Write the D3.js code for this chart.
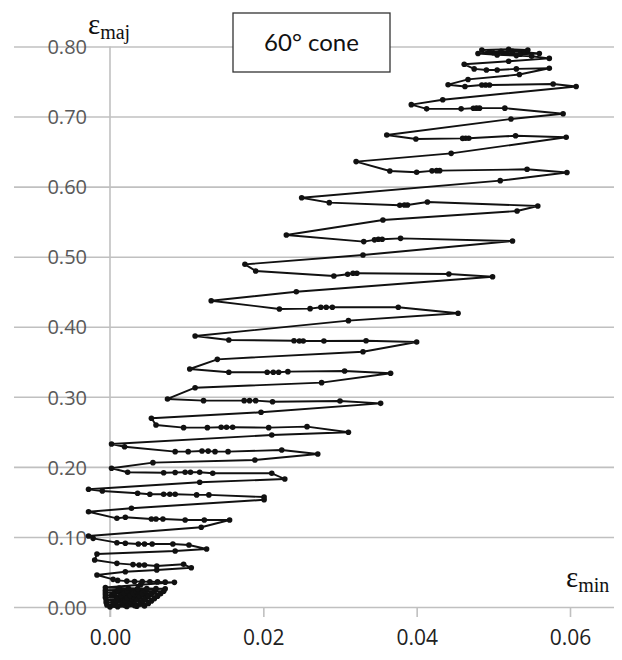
<!DOCTYPE html>
<html><head><meta charset="utf-8">
<script src="https://cdn.jsdelivr.net/npm/d3@7/dist/d3.min.js"></script>
<style>body{margin:0;background:#fff}svg{display:block}</style>
</head><body><svg id="c" width="622" height="660"></svg>
<script>
// strain path (time order, bottom to top)
const epsMin = [
0.0000,0.0010,0.0022,0.0035,0.0045,0.0032,0.0020,0.0008,-0.0004,
0.0024,0.0050,0.0040,0.0028,0.0016,0.0004,-0.0005,
0.0026,0.0054,0.0043,0.0032,0.0020,0.0008,-0.0005,
0.0028,0.0058,0.0046,0.0034,0.0022,0.0010,-0.0006,
0.0030,0.0062,0.0050,0.0038,0.0026,0.0014,0.0002,-0.0006,
0.0032,0.0066,0.0054,0.0042,0.0030,0.0018,0.0006,-0.0006,
0.0035,0.0070,0.0058,0.0046,0.0034,0.0022,0.0010,-0.0006,
0.0036,0.0072,0.0060,0.0048,0.0036,0.0024,0.0012,-0.0006,
0.0040,
0.0084,0.0072,0.0062,0.0052,0.0042,0.0032,0.0022,0.0010,0.0004,-0.0017,
0.0020,0.0061,0.0106,0.0096,0.0061,0.0045,0.0038,0.0030,0.0009,-0.0020,-0.0017,
0.0085,0.0126,0.0103,0.0082,0.0055,0.0045,0.0037,0.0020,0.0009,-0.0022,-0.0028,
0.0119,0.0156,0.0123,0.0098,0.0069,0.0060,0.0054,0.0020,0.0009,-0.0028,
0.0028,0.0201,0.0201,0.0129,0.0113,0.0085,0.0078,0.0070,0.0052,0.0036,-0.0010,-0.0028,
0.0117,0.0228,0.0211,0.0134,0.0117,0.0105,0.0098,0.0085,0.0070,0.0023,0.0002,
0.0056,0.0189,0.0271,0.0224,0.0154,0.0137,0.0128,0.0120,0.0102,0.0085,0.0019,0.0002,
0.0211,0.0311,0.0257,0.0207,0.0160,0.0152,0.0145,0.0127,0.0096,0.0060,0.0054,
0.0197,0.0353,0.0300,0.0212,0.0190,0.0182,0.0175,0.0122,0.0075,
0.0111,0.0276,0.0366,0.0306,0.0232,0.0220,0.0213,0.0205,0.0155,0.0104,
0.0140,0.0330,0.0400,0.0334,0.0279,0.0252,0.0247,0.0240,0.0155,0.0111,
0.0311,0.0454,0.0376,0.0290,0.0282,0.0275,0.0261,0.0221,0.0132,
0.0243,0.0499,0.0442,0.0322,0.0317,0.0310,0.0292,0.0190,0.0176,
0.0330,0.0525,0.0379,0.0355,0.0350,0.0345,0.0331,0.0230,
0.0356,0.0531,0.0558,0.0414,0.0388,0.0384,0.0378,0.0286,0.0250,
0.0509,0.0596,0.0544,0.0430,0.0426,0.0420,0.0400,0.0365,0.0321,
0.0445,0.0595,0.0529,0.0468,0.0464,0.0460,0.0399,0.0361,
0.0523,0.0591,0.0515,0.0482,0.0478,0.0474,0.0458,0.0413,0.0393,
0.0434,0.0608,0.0578,0.0495,0.0490,0.0485,0.0463,0.0441,
0.0467,0.0534,0.0573,0.0530,0.0505,0.0491,0.0475,0.0462,
0.0520,0.0573,0.0550,0.0530,0.0505,0.0480,
0.0510,0.0540,0.0560,0.0535,0.0500,0.0485,0.0520,0.0545,0.0525,0.0495
];
const epsMaj = [
0.0000,0.0004,0.0008,0.0012,0.0016,0.0020,0.0022,0.0024,0.0030,
0.0040,0.0050,0.0052,0.0055,0.0057,0.0060,0.0066,
0.0076,0.0085,0.0088,0.0090,0.0092,0.0094,0.0100,
0.0110,0.0120,0.0122,0.0124,0.0126,0.0128,0.0135,
0.0145,0.0155,0.0157,0.0159,0.0160,0.0162,0.0164,0.0170,
0.0180,0.0190,0.0192,0.0194,0.0195,0.0197,0.0199,0.0205,
0.0215,0.0225,0.0227,0.0229,0.0230,0.0232,0.0234,0.0240,
0.0250,0.0260,0.0262,0.0264,0.0265,0.0267,0.0269,0.0278,
0.0318,
0.0352,0.0355,0.0358,0.0360,0.0362,0.0365,0.0370,0.0380,0.0395,0.0457,
0.0504,0.0528,0.0560,0.0610,0.0585,0.0600,0.0600,0.0605,0.0623,0.0670,0.0756,
0.0800,0.0828,0.0885,0.0900,0.0900,0.0900,0.0900,0.0910,0.0918,0.0980,0.1013,
0.1138,0.1242,0.1242,0.1242,0.1256,0.1256,0.1256,0.1280,0.1266,0.1360,
0.1409,0.1530,0.1570,0.1600,0.1600,0.1610,0.1610,0.1610,0.1609,0.1623,0.1656,0.1680,
0.1780,0.1827,0.1908,0.1908,0.1923,0.1923,0.1923,0.1920,0.1917,0.1923,0.1980,
0.2060,0.2098,0.2184,0.2241,0.2217,0.2217,0.2225,0.2227,0.2217,0.2217,0.2288,0.2327,
0.2455,0.2494,0.2574,0.2560,0.2565,0.2565,0.2565,0.2560,0.2560,0.2598,0.2693,
0.2779,0.2907,0.2940,0.2930,0.2945,0.2945,0.2945,0.2945,0.2969,
0.3130,0.3202,0.3336,0.3369,0.3359,0.3350,0.3350,0.3350,0.3350,0.3397,
0.3535,0.3644,0.3782,0.3801,0.3797,0.3797,0.3797,0.3800,0.3811,0.3868,
0.4087,0.4192,0.4278,0.4278,0.4278,0.4278,0.4258,0.4253,0.4372,
0.4500,0.4714,0.4753,0.4763,0.4763,0.4750,0.4725,0.4796,0.4891,
0.5024,0.5224,0.5262,0.5248,0.5248,0.5240,0.5215,0.5310,
0.5524,0.5652,0.5724,0.5780,0.5738,0.5738,0.5735,0.5771,0.5842,
0.6085,0.6201,0.6247,0.6228,0.6228,0.6225,0.6205,0.6223,0.6357,
0.6475,0.6704,0.6727,0.6690,0.6690,0.6688,0.6680,0.6737,
0.6965,0.7040,0.7120,0.7120,0.7120,0.7118,0.7110,0.7110,0.7170,
0.7240,0.7430,0.7465,0.7450,0.7450,0.7450,0.7430,0.7455,
0.7530,0.7600,0.7690,0.7680,0.7665,0.7665,0.7680,0.7746,
0.7790,0.7830,0.7860,0.7870,0.7880,0.7900,
0.7930,0.7920,0.7900,0.7890,0.7910,0.7950,0.7960,0.7950,0.7930,0.7920
];
const yTicks = [0,0.1,0.2,0.3,0.4,0.5,0.6,0.7,0.8];
const xTicks = [0,0.02,0.04,0.06];
const title = "60° cone";

const pts = epsMin.map((v,i)=>[v, epsMaj[i]]);
const svg = d3.select("#c");
const x = d3.scaleLinear().domain([0,0.06]).range([110,570]);
const y = d3.scaleLinear().domain([0,0.8]).range([607,46.5]);

// y gridlines + labels
const gy = svg.append("g").attr("transform","translate(14,0)")
  .call(d3.axisLeft(y).tickValues(yTicks).tickSize(-600).tickFormat(d3.format(".2f")));
gy.select(".domain").remove();
gy.selectAll(".tick line").attr("stroke","#c0c0c0").attr("stroke-width",1.6);
gy.selectAll(".tick text").attr("x",73).attr("text-anchor","end").attr("dy","0.36em")
  .attr("fill","#595959").style("font-family","'Open Sans', sans-serif").style("font-size","20px");

// x axis ticks + labels
const gx = svg.append("g").attr("transform","translate(0,607)")
  .call(d3.axisBottom(x).tickValues(xTicks).tickSize(10).tickFormat(d3.format(".2f")));
gx.select(".domain").remove();
gx.selectAll(".tick line").attr("stroke","#c0c0c0").attr("stroke-width",1.6);
gx.selectAll(".tick text").attr("y",23).attr("dy","0.71em").attr("fill","#222")
  .style("font-family","'Open Sans', sans-serif").style("font-size","21px");

// vertical axis line at x=0
svg.append("line").attr("x1",x(0)).attr("x2",x(0)).attr("y1",y(0.8)).attr("y2",617)
  .attr("stroke","#c0c0c0").attr("stroke-width",1.6);

// path
svg.append("path").datum(pts)
  .attr("d", d3.line().x(d=>x(d[0])).y(d=>y(d[1])))
  .attr("fill","none").attr("stroke","#111").attr("stroke-width",1.9).attr("stroke-linejoin","round");
svg.append("g").selectAll("circle").data(pts).join("circle")
  .attr("cx",d=>x(d[0])).attr("cy",d=>y(d[1])).attr("r",2.8).attr("fill","#111");

// title box
svg.append("rect").attr("x",233).attr("y",13).attr("width",157).attr("height",59)
  .attr("fill","#fff").attr("stroke","#333").attr("stroke-width",1.3);
svg.append("text").attr("x",311.5).attr("y",51).attr("text-anchor","middle")
  .style("font-family","Lato, 'Open Sans', sans-serif").style("font-size","24px").attr("fill","#111").text(title);

// axis symbols
const ymaj = svg.append("text").attr("x",88).attr("y",34).style("font-family","'Liberation Serif', serif").attr("fill","#111");
ymaj.append("tspan").style("font-size","29px").text("ε");
ymaj.append("tspan").style("font-size","20px").attr("dy","5").text("maj");
const xmin = svg.append("text").attr("x",566).attr("y",587).style("font-family","'Liberation Serif', serif").attr("fill","#111");
xmin.append("tspan").style("font-size","29px").text("ε");
xmin.append("tspan").style("font-size","20px").attr("dy","5").text("min");
</script></body></html>
